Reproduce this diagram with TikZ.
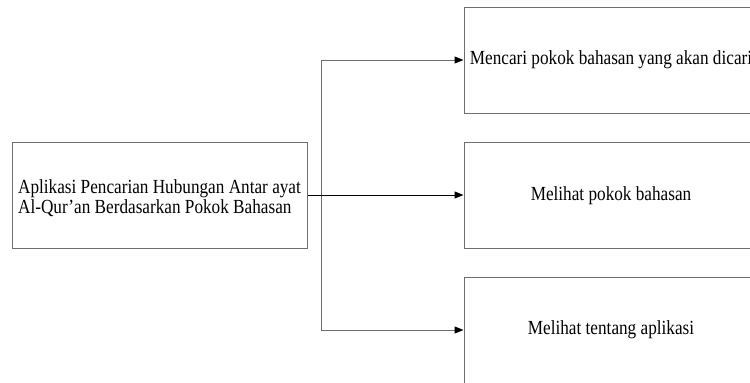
\documentclass[tikz,border=0pt]{standalone}
\usepackage{fontspec}
\setmainfont[FakeStretch=0.86]{Liberation Serif}
\usepackage{xcolor}
\definecolor{frame-gray}{RGB}{110,110,110}
\usepackage{tikz}
\usetikzlibrary{arrows.meta,positioning}

\begin{document}
\begin{tikzpicture}[
    x=1pt, y=-1pt,
    every node/.style={inner sep=0pt},
    menubox/.style={
        draw=frame-gray,
        line width=1pt,
        minimum width=294pt,
        minimum height=106pt,
        font=\fontsize{20}{19.5}\selectfont
    },
    busline/.style={draw=frame-gray, line width=1pt},
    tip/.style={-{Triangle[length=9pt,width=7pt,color=black]}}
]

% Page frame
\clip (0,0) rectangle (750,383);
\fill[white] (0,0) rectangle (750,383);

% Application box
\node[menubox, minimum width=295pt] (app) at (159.5,195) {};
\node[font=\fontsize{20}{19.5}\selectfont, align=left] (applabel)
    at ([yshift=-3pt]app.center)
    {Aplikasi Pencarian Hubungan Antar ayat\\Al-Qur'an Berdasarkan Pokok Bahasan};

% Menu boxes
\node[menubox] (search) at (611,60) {Mencari pokok bahasan yang akan dicari};
\node[menubox] (topic) at (611,195.5) {Melihat pokok bahasan};
\node[menubox] (about) at (611,330) {Melihat tentang aplikasi};

% Bus
\coordinate (split) at (321,195);
\draw[busline] (split |- search.west) -- (split |- about.west);
\draw[busline, tip] (split |- search.west) -- (search.west);
\draw[busline, tip] (split |- about.west) -- (about.west);

% Middle connector
\draw[line width=1pt, tip] (app.east) -- (app.east -| topic.west);

\end{tikzpicture}
\end{document}
